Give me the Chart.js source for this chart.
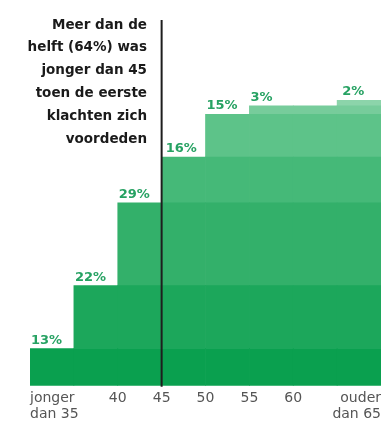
<!DOCTYPE html>
<html>
<head>
<meta charset="utf-8">
<script src="https://cdn.jsdelivr.net/npm/chart.js@4.4.0/dist/chart.umd.min.js"></script>
<style>
  html, body { margin: 0; padding: 0; background: #fff; }
  #wrap { width: 383px; height: 428px; }
</style>
</head>
<body>
<div id="wrap"><canvas id="steps"></canvas></div>
<script>
// leeftijdsgroepen en aandeel (%)
const groepen = ['jonger dan 35', '35-40', '40-45', '45-50', '50-55', '55-65', 'ouder dan 65'];
const aandeel = [13, 22, 29, 16, 15, 3, 2];
// 5-jaars vakken op de as, met de groep waar elk vak bij hoort
const vakken = ['<35', '35-40', '40-45', '45-50', '50-55', '55-60', '60-65', '>65'];
const vakGroep = [0, 1, 2, 3, 4, 5, 5, 6];
// as-labels op de grenzen
const tickWaarden = [0, 2, 3, 4, 5, 6, 8];
const tickLabels = [['jonger', 'dan 35'], '40', '45', '50', '55', '60', ['ouder', 'dan 65']];
const kleuren = ['#0aa04f', '#1ca75b', '#33b06a', '#45b978', '#5dc389', '#77cc9b', '#8cd4aa'];
const tekst = ['Meer dan de', 'helft (64%) was', 'jonger dan 45', 'toen de eerste', 'klachten zich', 'voordeden'];

const datasets = groepen.map((g, k) => ({
    label: g,
    data: vakGroep.map(c => c >= k ? aandeel[k] : null),
    backgroundColor: kleuren[k],
    borderWidth: 0,
    categoryPercentage: 1,
    barPercentage: 1,
    xAxisID: 'x'
}));

const labelsPlugin = {
    id: 'labels',
    afterDatasetsDraw(chart) {
        const ctx = chart.ctx;
        const area = chart.chartArea;
        const x2 = chart.scales.x2;
        // verticale lijn bij 45
        const lx = x2.getPixelForValue(3);
        ctx.save();
        ctx.strokeStyle = '#1e1e1e';
        ctx.lineWidth = 2;
        ctx.beginPath();
        ctx.moveTo(lx, 20);
        ctx.lineTo(lx, area.bottom + 1);
        ctx.stroke();

        // percentages boven elke trede
        ctx.font = 'bold 13px "DejaVu Sans"';
        ctx.fillStyle = '#27a263';
        ctx.textAlign = 'left';
        ctx.textBaseline = 'alphabetic';
        groepen.forEach((g, k) => {
            const b = vakGroep.indexOf(k);
            const el = chart.getDatasetMeta(k).data[b];
            let left = el.x - el.width / 2 + 1;
            if (k === 3) left += 3;
            if (k === 6) left += 4;
            ctx.fillText(aandeel[k] + '%', left, el.y - 5);
        });

        // toelichting
        ctx.font = 'bold 13.5px "DejaVu Sans"';
        ctx.fillStyle = '#1a1a1a';
        ctx.textAlign = 'right';
        ctx.textBaseline = 'middle';
        tekst.forEach((t, i) => ctx.fillText(t, 147, 25 + i * 22.8));
        ctx.restore();
    }
};

new Chart(document.getElementById('steps').getContext('2d'), {
    type: 'bar',
    data: { labels: vakken, datasets: datasets },
    options: {
        responsive: true,
        maintainAspectRatio: false,
        animation: false,
        layout: { padding: { top: 100, left: 30, right: 2, bottom: 1 } },
        plugins: { legend: { display: false }, tooltip: { enabled: false } },
        scales: {
            x: { stacked: true, display: false },
            x2: {
                type: 'linear',
                position: 'bottom',
                offset: false,
                min: 0,
                max: 8,
                grid: { display: false, drawTicks: false, offset: false },
                border: { display: false },
                afterBuildTicks: axis => { axis.ticks = tickWaarden.map(v => ({ value: v })); },
                afterFit: axis => { axis.paddingLeft = 0; axis.paddingRight = 0; },
                ticks: {
                    align: 'inner',
                    padding: 5,
                    maxRotation: 0,
                    minRotation: 0,
                    autoSkip: false,
                    color: '#555',
                    font: { family: 'DejaVu Sans', size: 14, lineHeight: 1.12 },
                    callback: v => tickLabels[tickWaarden.indexOf(v)]
                }
            },
            y: { stacked: true, display: false, min: 0, max: 100 }
        }
    },
    plugins: [labelsPlugin]
});
</script>
</body>
</html>
